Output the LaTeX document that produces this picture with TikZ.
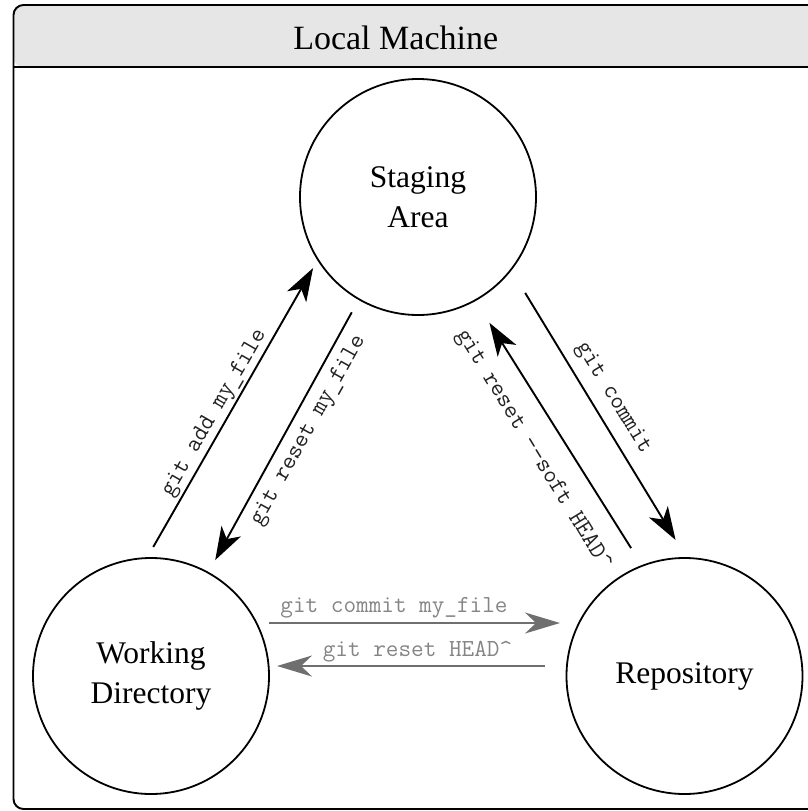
\documentclass[tikz,border=0pt]{standalone}
\usepackage{fontspec}
\setmainfont{Liberation Serif}
\usetikzlibrary{arrows.meta}
\definecolor{titlefill}{HTML}{E6E6E6}
\definecolor{harrow}{HTML}{6F6F6F}
\definecolor{htext}{HTML}{858585}
\definecolor{dtext}{HTML}{222222}
\tikzset{
  state/.style={circle, draw, line width=1.8pt, minimum size=236pt, inner sep=0pt, outer sep=0pt,
    align=center, font=\fontsize{31.5}{40}\selectfont},
  blkarrow/.style={line width=1.9pt, -{Stealth[length=33pt, width=22pt, inset=9pt]}},
  grayarrow/.style={draw=harrow, line width=2.2pt, -{Stealth[length=35pt, width=21pt, inset=11pt]}, harrow},
  cmdlabel/.style={inner sep=0pt, text=dtext, font=\ttfamily\fontsize{24.5}{28}\selectfont},
  graylabel/.style={cmdlabel, text=htext, anchor=base}
}
\begin{document}
\begin{tikzpicture}[x=1pt, y=-1pt]
\useasboundingbox (0,0) rectangle (807,811);
% frame
\fill[titlefill, rounded corners=10pt] (830,5) -- (13.5,5) -- (13.5,67.3) -- (830,67.3) -- cycle;
\draw[line width=1.9pt, rounded corners=10pt] (830,5) -- (13.5,5) -- (13.5,809) -- (830,809);
\draw[line width=1.9pt] (13.5,67.3) -- (830,67.3);
\node[anchor=base, font=\fontsize{34}{40}\selectfont] (title) at (395.7,49) {Local Machine};
% states
\node[state] (sa) at (418,197) {Staging\\Area};
\node[state] (wd) at (151,676) {Working\\Directory};
\node[state] (rep) at (684.5,676) {Repository};
% diagonal connectors
\draw[blkarrow, shorten <=12.8pt, shorten >=9.8pt] (wd.92.6) -- (sa.212);
\draw[blkarrow, shorten <=15pt, shorten >=14.5pt] (sa.240.7) -- (wd.61.2);
\draw[blkarrow, shorten <=27.2pt, shorten >=21.1pt] (sa.322) -- (rep.89.3);
\draw[blkarrow, shorten <=21pt, shorten >=26.7pt] (rep.111.1) -- (sa.299.9);
\node[cmdlabel, rotate=60] (ladd) at (214.5,413) {git add my\_file};
\node[cmdlabel, rotate=60.8] (lreset) at (308.5,430.5) {git reset my\_file};
\node[cmdlabel, rotate=-58.7] (lcommit) at (613,398) {git commit};
\node[cmdlabel, rotate=-58.5] (lsoft) at (533,450) {git reset -{}-soft HEAD\textasciicircum};
% horizontal connectors
\draw[grayarrow, shorten >=6.5pt] ([yshift=53pt]wd.east) -- ([yshift=53pt]rep.west);
\draw[grayarrow, shorten <=21.5pt, shorten >=8pt] ([yshift=10pt]rep.west) -- ([yshift=10pt]wd.east);
\node[graylabel] (lcm) at (394,612.3) {git commit my\_file};
\node[graylabel] (lrh) at (417.5,656) {git reset HEAD\textasciicircum};
\end{tikzpicture}
\end{document}
